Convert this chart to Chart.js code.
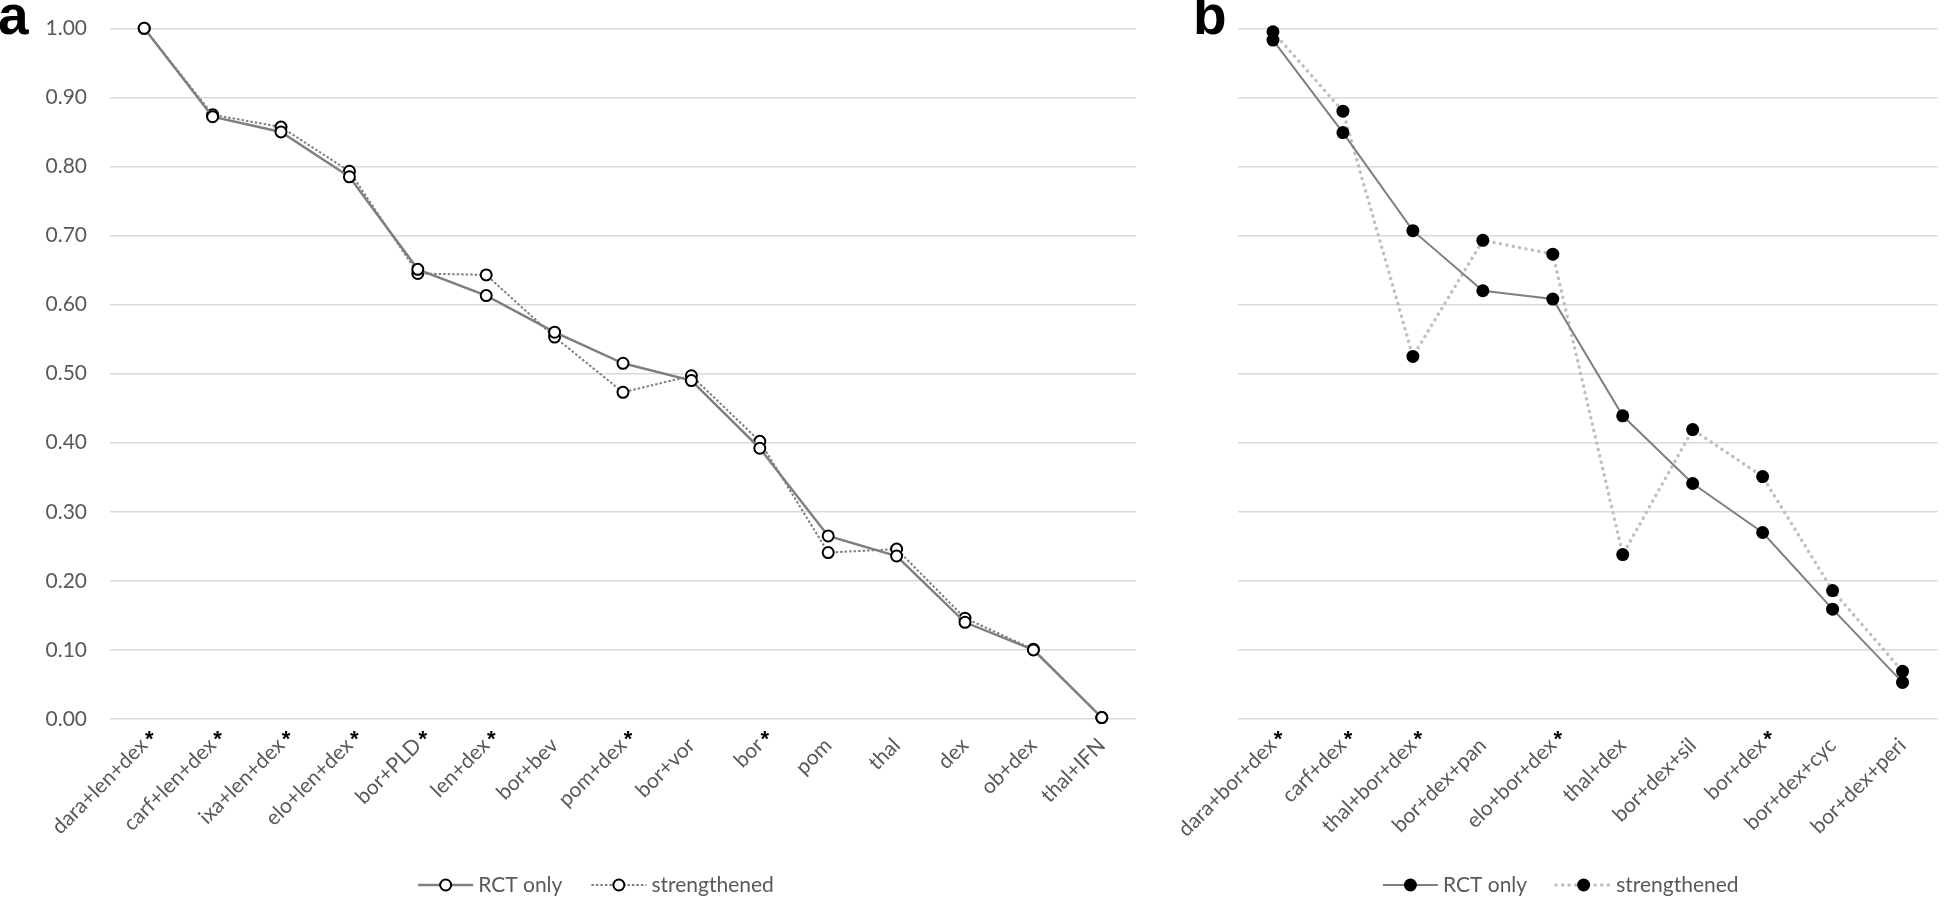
<!DOCTYPE html>
<html>
<head>
<meta charset="utf-8">
<title>Treatment ranking - RCT only vs strengthened</title>
<script src="https://cdn.jsdelivr.net/npm/chart.js@4.4.1/dist/chart.umd.min.js"></script>
<style>
  body { margin: 0; background: #fff; }
  #wrap { position: relative; width: 1944px; height: 899px; overflow: hidden; }
  canvas { position: absolute; top: 0; }
  #chartA { left: 0; }
  #chartB { left: 1165px; }
  .tag { position: absolute; font: bold 55px 'Liberation Sans', Arial, sans-serif; line-height: 55px; color: #000; }
</style>
</head>
<body>
<div id="wrap">
  <canvas id="chartA" width="1165" height="899"></canvas>
  <canvas id="chartB" width="779" height="899"></canvas>
  <div class="tag" style="left:-2px;top:-12px">a</div>
  <div class="tag" style="left:1193px;top:-12px">b</div>
</div>
<script>
// panel a
const regimensA = ['dara+len+dex', 'carf+len+dex', 'ixa+len+dex', 'elo+len+dex', 'bor+PLD', 'len+dex',
    'bor+bev', 'pom+dex', 'bor+vor', 'bor', 'pom', 'thal', 'dex', 'ob+dex', 'thal+IFN'];
const starredA = [1, 1, 1, 1, 1, 1, 0, 1, 0, 1, 0, 0, 0, 0, 0];
const rctOnlyA = [1.00, 0.872, 0.850, 0.785, 0.651, 0.613, 0.560, 0.515, 0.490, 0.392, 0.265, 0.236, 0.140, 0.100, 0.002];
const strengthenedA = [1.00, 0.875, 0.857, 0.793, 0.645, 0.643, 0.553, 0.473, 0.497, 0.402, 0.241, 0.246, 0.146, 0.101, 0.002];

// panel b
const regimensB = ['dara+bor+dex', 'carf+dex', 'thal+bor+dex', 'bor+dex+pan', 'elo+bor+dex', 'thal+dex',
    'bor+dex+sil', 'bor+dex', 'bor+dex+cyc', 'bor+dex+peri'];
const starredB = [1, 1, 1, 0, 1, 0, 0, 1, 0, 0];
const rctOnlyB = [0.983, 0.849, 0.707, 0.620, 0.608, 0.439, 0.341, 0.270, 0.159, 0.053];
const strengthenedB = [0.995, 0.880, 0.525, 0.693, 0.673, 0.238, 0.419, 0.351, 0.186, 0.069];

const yTickValues = [0, 0.1, 0.2, 0.3, 0.4, 0.5, 0.6, 0.7, 0.8, 0.9, 1.0];

const textGrey = '#595959';
const labelFont = { family: 'Lato', size: 21 };

// little asterisks above the starred category labels
const starPlugin = {
    id: 'starMarks',
    afterDraw(chart, args, opts) {
        const xs = chart.scales.x;
        const ctx = chart.ctx;
        ctx.save();
        ctx.font = 'bold 22px "Liberation Sans"';
        ctx.fillStyle = '#000';
        ctx.textAlign = 'center';
        ctx.textBaseline = 'alphabetic';
        opts.flags.forEach((f, i) => {
            if (f) ctx.fillText('*', xs.getPixelForTick(i) + 5, chart.chartArea.bottom + 27);
        });
        ctx.restore();
    }
};

// Excel-like legend: line sample with the marker in the middle
const lineLegend = {
    id: 'lineLegend',
    afterDraw(chart) {
        const ctx = chart.ctx;
        const area = chart.chartArea;
        const lineLen = 55, gapText = 5, gapItem = 29;
        const sets = chart.data.datasets;
        ctx.save();
        ctx.font = '21px Lato';
        let total = 0;
        sets.forEach((ds, i) => {
            total += lineLen + gapText + ctx.measureText(ds.label).width + (i < sets.length - 1 ? gapItem : 0);
        });
        let x = (area.left + area.right) / 2 - 27 - total / 2;
        const y = chart.height - 14;
        sets.forEach(ds => {
            ctx.strokeStyle = ds.borderColor;
            ctx.lineWidth = ds.borderWidth;
            ctx.lineCap = ds.borderCapStyle || 'butt';
            ctx.setLineDash(ds.borderDash || []);
            ctx.beginPath();
            ctx.moveTo(x, y);
            ctx.lineTo(x + lineLen, y);
            ctx.stroke();
            ctx.setLineDash([]);
            ctx.beginPath();
            ctx.arc(x + lineLen / 2, y, ds.pointRadius, 0, Math.PI * 2);
            ctx.fillStyle = ds.pointBackgroundColor;
            ctx.fill();
            if (ds.pointBorderWidth) {
                ctx.lineWidth = ds.pointBorderWidth;
                ctx.strokeStyle = ds.pointBorderColor;
                ctx.stroke();
            }
            ctx.fillStyle = textGrey;
            ctx.textAlign = 'left';
            ctx.textBaseline = 'middle';
            ctx.fillText(ds.label, x + lineLen + gapText, y);
            x += lineLen + gapText + ctx.measureText(ds.label).width + gapItem;
        });
        ctx.restore();
    }
};

function noPadding(s) {
    s.paddingTop = 0;
    s.paddingBottom = 0;
    s.paddingLeft = 0;
    s.paddingRight = 0;
}

function makeChart(id, labels, starred, datasets, yWidth, showY, padRight) {
    return new Chart(document.getElementById(id), {
        type: 'line',
        data: { labels: labels, datasets: datasets },
        options: {
            responsive: false,
            animation: false,
            events: [],
            layout: { padding: { top: 28.3, right: padRight, left: 0, bottom: 0 } },
            plugins: {
                legend: { display: false },
                tooltip: { enabled: false },
                starMarks: { flags: starred }
            },
            scales: {
                x: {
                    offset: true,
                    grid: { display: false },
                    border: { display: false },
                    ticks: {
                        autoSkip: false,
                        minRotation: 45,
                        maxRotation: 45,
                        padding: 6,
                        color: textGrey,
                        font: labelFont
                    },
                    afterFit: s => { s.height = 180; noPadding(s); }
                },
                y: {
                    min: 0,
                    max: 1,
                    afterBuildTicks: s => { s.ticks = yTickValues.map(v => ({ value: v })); },
                    grid: { color: '#d9d9d9', lineWidth: 1.5, drawTicks: false },
                    border: { display: false },
                    ticks: {
                        display: showY,
                        padding: 23,
                        color: textGrey,
                        font: labelFont,
                        callback: v => v.toFixed(2)
                    },
                    afterFit: s => { s.width = yWidth; noPadding(s); }
                }
            }
        },
        plugins: [starPlugin, lineLegend]
    });
}

makeChart('chartA', regimensA, starredA, [
    {
        label: 'RCT only',
        data: rctOnlyA,
        borderColor: '#7f7f7f',
        borderWidth: 2.5,
        pointRadius: 5.5,
        pointBorderWidth: 2,
        pointBorderColor: '#000',
        pointBackgroundColor: '#fff',
        tension: 0,
        clip: false
    },
    {
        label: 'strengthened',
        data: strengthenedA,
        borderColor: '#7f7f7f',
        borderWidth: 2,
        borderDash: [2.5, 2],
        pointRadius: 5.5,
        pointBorderWidth: 2,
        pointBorderColor: '#000',
        pointBackgroundColor: '#fff',
        tension: 0,
        clip: false
    }
], 110, true, 29);

makeChart('chartB', regimensB, starredB, [
    {
        label: 'RCT only',
        data: rctOnlyB,
        borderColor: '#7f7f7f',
        borderWidth: 2,
        pointRadius: 6.5,
        pointBorderWidth: 0,
        pointBackgroundColor: '#000',
        tension: 0,
        clip: false
    },
    {
        label: 'strengthened',
        data: strengthenedB,
        borderColor: '#bfbfbf',
        borderWidth: 3.5,
        borderDash: [0.01, 6.5],
        borderCapStyle: 'round',
        pointRadius: 6.5,
        pointBorderWidth: 0,
        pointBackgroundColor: '#000',
        tension: 0,
        clip: false
    }
], 73, false, 0);
</script>
</body>
</html>
